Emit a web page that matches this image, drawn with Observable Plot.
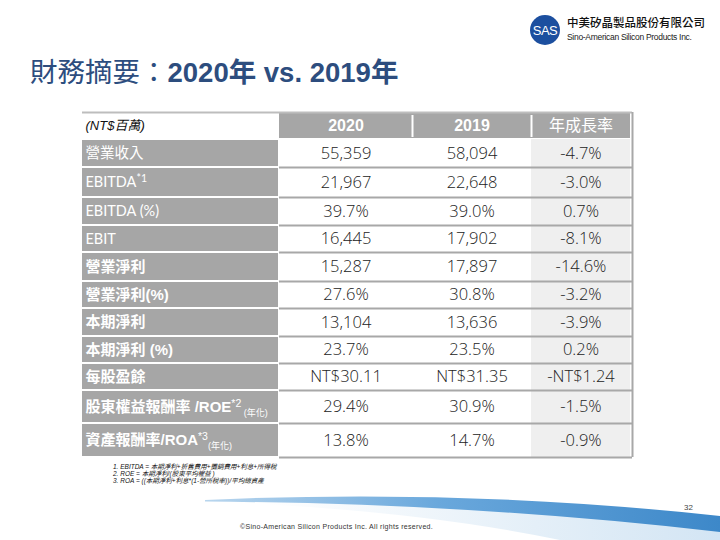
<!DOCTYPE html>
<html>
<head>
<meta charset="utf-8">
<script src="https://cdn.jsdelivr.net/npm/d3@7"></script>
<script src="https://cdn.jsdelivr.net/npm/@observablehq/plot@0.6"></script>
<style>
  html, body { margin: 0; padding: 0; background: #fff; }
  #page { position: relative; width: 720px; height: 540px; overflow: hidden; font-family: "Liberation Sans", Arial, sans-serif; }
  #deco { position: absolute; left: 0; top: 0; }
  #title { position: absolute; left: 30px; top: 55px; font-size: 27.5px; line-height: 30px; color: #2d4d7e; white-space: nowrap; font-family: "Noto Sans CJK TC", sans-serif; }
  #title b { font-family: "Liberation Sans", Arial, sans-serif; font-weight: bold; }
  #title b span { font-family: "Noto Sans CJK TC", sans-serif; }
  #table { position: absolute; left: 0; top: 108px; }
  #notes { position: absolute; left: 113px; top: 463px; font-size: 6.5px; line-height: 7px; font-style: italic; color: #111; font-family: "Liberation Sans", "Noto Sans CJK TC", sans-serif; white-space: nowrap; }
  #pageno { position: absolute; left: 684px; top: 503px; font-size: 8px; color: #444; }
  #copy { position: absolute; left: 240px; top: 523px; font-size: 7px; color: #333; letter-spacing: 0.3px; white-space: nowrap; }
</style>
</head>
<body>
<div id="page">
  <svg id="deco" width="720" height="540">
    <defs>
      <linearGradient id="band" x1="0" x2="1" y1="0" y2="0">
        <stop offset="0" stop-color="#b9d6ee"/>
        <stop offset="0.45" stop-color="#6aa8dc"/>
        <stop offset="1" stop-color="#3d88c9"/>
      </linearGradient>
      <linearGradient id="haze" x1="0" x2="1" y1="0" y2="0">
        <stop offset="0" stop-color="#ffffff"/>
        <stop offset="0.6" stop-color="#e4eff8"/>
        <stop offset="1" stop-color="#d3e5f4"/>
      </linearGradient>
    </defs>
    <path d="M260,503 Q470,498 720,522 L720,540 L560,540 Q430,513 260,504 Z" fill="url(#haze)"/>
    <path d="M205,500 Q465,488 720,516 L720,532 Q470,503 205,501.6 Z" fill="url(#band)"/>
    <circle cx="545" cy="30" r="15" fill="#1c4f9f"/>
    <text x="545" y="35" text-anchor="middle" fill="#fff" font-size="13" font-family="Liberation Sans, Arial" letter-spacing="-0.5">SAS</text>
    <text x="567" y="27" fill="#111" font-size="11.5" font-weight="500" font-family="Noto Sans CJK TC">中美矽晶製品股份有限公司</text>
    <text x="567" y="40" fill="#222" font-size="8.5" font-family="Liberation Sans, Arial" letter-spacing="-0.3">Sino-American Silicon Products Inc.</text>
  </svg>
  <div id="title">財務摘要：<b>2020<span>年</span> vs. 2019<span>年</span></b></div>
  <div id="table"></div>
  <div id="notes"></div>
  <div id="pageno">32</div>
  <div id="copy">©Sino-American Silicon Products Inc.  All rights reserved.</div>
</div>
<script>
// ---- data ----
const unitLabel = "(NT$百萬)";
const columns = ["2020", "2019", "年成長率"];
const rowLabels = ["營業收入", "EBITDA", "EBITDA (%)", "EBIT", "營業淨利", "營業淨利(%)", "本期淨利", "本期淨利 (%)", "每股盈餘", "股東權益報酬率 /ROE", "資產報酬率/ROA"];
const labelNotes = ["", "*1", "", "", "", "", "", "", "", "*2", "*3"];
const labelSuffix = ["", "", "", "", "", "", "", "", "", " (年化)", "(年化)"];
const values2020 = ["55,359", "21,967", "39.7%", "16,445", "15,287", "27.6%", "13,104", "23.7%", "NT$30.11", "29.4%", "13.8%"];
const values2019 = ["58,094", "22,648", "39.0%", "17,902", "17,897", "30.8%", "13,636", "23.5%", "NT$31.35", "30.9%", "14.7%"];
const growthRate = ["-4.7%", "-3.0%", "0.7%", "-8.1%", "-14.6%", "-3.2%", "-3.9%", "0.2%", "-NT$1.24", "-1.5%", "-0.9%"];
const footnotes = [
  "1. EBITDA = 本期淨利+折舊費用+攤銷費用+利息+所得稅",
  "2. ROE = 本期淨利/(股東平均權益 )",
  "3. ROA = ((本期淨利+利息*(1-營所稅率))/平均總資產"
];

// ---- layout (sizes in table units = px) ----
const rowHeights = [27, 28, 30, 28, 27, 29, 27, 28, 27, 27, 33, 34]; // header + body rows
const colWidths = [197, 133, 119, 99];
const tableWidth = 550;
const boldFrom = 4;

const rowEdges = [0];
rowHeights.forEach(h => rowEdges.push(rowEdges[rowEdges.length - 1] + h));
const colEdges = [0];
colWidths.forEach(w => colEdges.push(colEdges[colEdges.length - 1] + w));
const tableHeight = rowEdges[rowEdges.length - 1];

const header = columns.map((text, c) => ({text, c, x1: colEdges[c + 1], x2: colEdges[c + 2], y1: 0, y2: rowEdges[1]}));
const rows = rowLabels.map((label, i) => ({
  label, note: labelNotes[i], suffix: labelSuffix[i], i,
  y1: rowEdges[i + 1], y2: rowEdges[i + 2],
  vals: [values2020[i], values2019[i], growthRate[i]]
}));
const cells = rows.flatMap(r => r.vals.map((text, c) => ({text, c, x1: colEdges[c + 1], x2: colEdges[c + 2], y1: r.y1, y2: r.y2})));
const mid = d => (d.y1 + d.y2) / 2;
const cx = d => (d.x1 + d.x2) / 2;

const mT = 4, mB = 3, mL = 82, mR = 88;
const chart = Plot.plot({
  width: 720,
  height: mT + tableHeight + mB,
  marginTop: mT, marginBottom: mB, marginLeft: mL, marginRight: mR,
  x: {type: "linear", domain: [0, tableWidth], axis: null},
  y: {type: "linear", domain: [0, tableHeight], reverse: true, axis: null},
  style: {background: "transparent", overflow: "visible"},
  marks: [
    Plot.rect(rows, {x1: () => colEdges[3], x2: () => colEdges[4], y1: "y1", y2: "y2", fill: "#efefef"}),
    Plot.rect([header[0]], {x1: () => colEdges[1], x2: () => colEdges[4], y1: "y1", y2: "y2", insetTop: 1, insetBottom: 1, fill: "#a6a6a6"}),
    Plot.rect(rows, {x1: () => colEdges[0], x2: () => colEdges[1], y1: "y1", y2: "y2", insetTop: 1, insetBottom: 1, insetRight: 1, fill: "#a6a6a6"}),
    Plot.ruleY(rowEdges.slice(2), {x1: () => colEdges[1], x2: () => tableWidth, stroke: "#a8a8a8", strokeWidth: 2}),
    Plot.ruleY([0], {x1: () => 0, x2: () => tableWidth, stroke: "#bdbdbd", strokeWidth: 2}),
    Plot.ruleX([tableWidth], {y1: () => 0, y2: () => tableHeight, stroke: "#a8a8a8", strokeWidth: 2}),
    Plot.ruleX([colEdges[2], colEdges[3]], {y1: () => 3, y2: () => rowEdges[1] - 2, stroke: "#ffffff", strokeWidth: 2}),
    Plot.text([unitLabel], {x: () => 3, y: () => rowEdges[1] / 2, text: d => d, textAnchor: "start", fontSize: 13, fontStyle: "italic", fill: "#111", fontFamily: "Liberation Sans, Noto Sans CJK TC, sans-serif"}),
    Plot.text(header, {filter: d => d.c < 2, x: cx, y: mid, text: "text", fill: "#fff", fontSize: 16, fontWeight: "bold", fontFamily: "Liberation Sans, Arial, sans-serif"}),
    Plot.text(header, {filter: d => d.c >= 2, x: cx, y: mid, text: "text", fill: "#fff", fontSize: 16, fontFamily: "Noto Sans CJK TC, sans-serif"}),
    Plot.text(rows, {filter: d => d.i < boldFrom, x: () => 3, y: mid, text: "label", textAnchor: "start", fill: "#fff", fontSize: 14.5, fontFamily: "Lato, Noto Sans CJK TC, sans-serif"}),
    Plot.text(rows, {filter: d => d.i >= boldFrom, x: () => 3, y: mid, text: "label", textAnchor: "start", fill: "#fff", fontSize: 15, fontWeight: "bold", fontFamily: "Liberation Sans, Noto Sans CJK TC, sans-serif"}),
    Plot.text(cells, {x: cx, y: mid, text: "text", fill: "#222", fontSize: 16.5, fontWeight: 300, fontFamily: "Open Sans, Liberation Sans, sans-serif"})
  ]
});
document.getElementById("table").appendChild(chart);

// superscript notes & subscript suffixes on labels
const ns = "http://www.w3.org/2000/svg";
chart.querySelectorAll("text").forEach(t => {
  const d = rows.find(r => r.label === t.textContent);
  if (!d) return;
  let shift = 0;
  if (d.note) {
    const s = document.createElementNS(ns, "tspan");
    s.setAttribute("font-size", "10.5");
    s.setAttribute("font-weight", "normal");
    s.setAttribute("dy", "-5");
    s.textContent = d.note;
    t.appendChild(s);
    shift = -5;
  }
  if (d.suffix) {
    const s = document.createElementNS(ns, "tspan");
    s.setAttribute("font-size", "9");
    s.setAttribute("font-weight", "normal");
    s.setAttribute("dy", String(4 - shift));
    s.textContent = d.suffix;
    t.appendChild(s);
  }
});

const notes = document.getElementById("notes");
footnotes.forEach(f => { const div = document.createElement("div"); div.textContent = f; notes.appendChild(div); });
</script>
</body>
</html>
